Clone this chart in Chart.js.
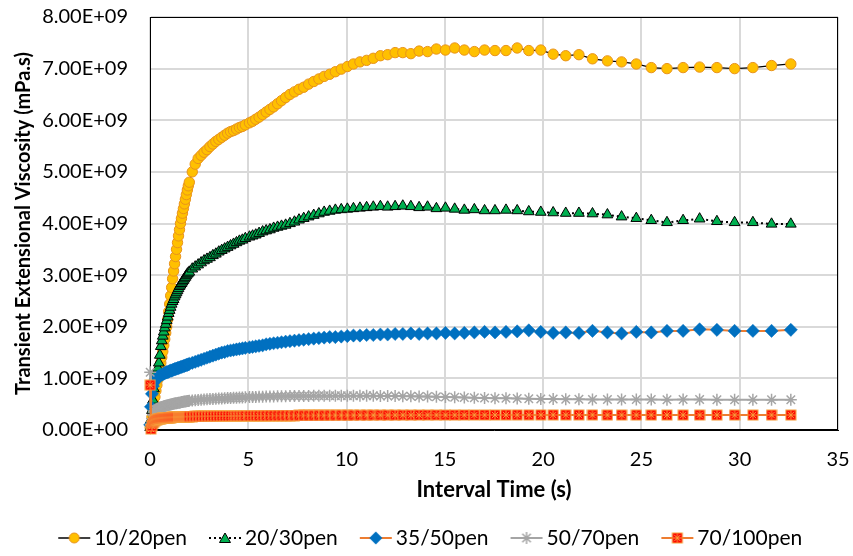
<!DOCTYPE html>
<html>
<head>
<meta charset="utf-8">
<script src="https://cdn.jsdelivr.net/npm/chart.js@4/dist/chart.umd.min.js"></script>
<style>
  html, body { margin: 0; padding: 0; background: #fff; }
  #wrap { width: 853px; height: 556px; }
</style>
</head>
<body>
<div id="wrap"><canvas id="chart" width="853" height="556"></canvas></div>
<script>
// Viscosity values are given in units of 1e9 mPa.s
const SCALE = 1e9;

const seriesNames = ['10/20pen', '20/30pen', '35/50pen', '50/70pen', '70/100pen'];

// Interval time (s)
const times = [
  0.01, 0.05, 0.1, 0.15, 0.2, 0.25, 0.3, 0.35, 0.4, 0.45, 0.5, 0.55, 0.6, 0.65, 0.7, 0.75, 0.8, 0.85, 0.9, 0.95,
  1.0, 1.05, 1.1, 1.15, 1.2, 1.25, 1.3, 1.35, 1.4, 1.45, 1.5, 1.55, 1.6, 1.65, 1.7, 1.75, 1.8, 1.85, 1.9, 1.95, 2.0,
  2.15, 2.3, 2.45, 2.6, 2.75, 2.9, 3.05, 3.2, 3.35, 3.5, 3.65, 3.8, 3.95, 4.1, 4.25, 4.4, 4.55, 4.7, 4.85,
  5.06, 5.22, 5.38, 5.55, 5.73, 5.91, 6.10, 6.29, 6.49, 6.69, 6.90, 7.12, 7.35, 7.58, 7.82, 8.07, 8.33, 8.59, 8.86, 9.14, 9.43, 9.73, 10.04, 10.35,
  10.68, 11.02, 11.36, 11.72, 12.09, 12.47, 12.86, 13.27, 13.69, 14.12, 14.57, 15.03, 15.50, 15.99, 16.50, 17.02, 17.55, 18.11, 18.68, 19.27, 19.88, 20.51, 21.15, 21.82, 22.51,
  23.27, 23.99, 24.74, 25.5, 26.3, 27.12, 27.96, 28.84, 29.74, 30.67, 31.62, 32.6
];

const pen10_20 = [
  0.05, 0.12, 0.25, 0.40, 0.52, 0.64, 0.76, 0.87, 0.98, 1.08, 1.19, 1.30, 1.41, 1.52, 1.64, 1.76, 1.88, 2.00, 2.14, 2.29,
  2.44, 2.60, 2.76, 2.93, 3.08, 3.22, 3.36, 3.50, 3.63, 3.76, 3.88, 4.00, 4.10, 4.20, 4.29, 4.38, 4.47, 4.56, 4.65, 4.73, 4.80,
  5.00, 5.15, 5.26, 5.32, 5.38, 5.43, 5.49, 5.54, 5.59, 5.63, 5.67, 5.71, 5.75, 5.78, 5.80, 5.83, 5.86, 5.88, 5.91,
  5.95, 5.98, 6.02, 6.06, 6.11, 6.16, 6.21, 6.26, 6.32, 6.38, 6.44, 6.50, 6.55, 6.60, 6.64, 6.70, 6.75, 6.80, 6.85, 6.89, 6.94, 6.99, 7.04, 7.09,
  7.13, 7.16, 7.20, 7.25, 7.27, 7.31, 7.31, 7.29, 7.34, 7.33, 7.38, 7.36, 7.40, 7.36, 7.33, 7.36, 7.35, 7.35, 7.40, 7.35, 7.36, 7.28, 7.25, 7.27, 7.19,
  7.15, 7.13, 7.09, 7.02, 7.00, 7.02, 7.03, 7.02, 7.00, 7.02, 7.06, 7.09
];

const pen20_30 = [
  0.05, 0.20, 0.38, 0.58, 0.80, 1.00, 1.07, 1.13, 1.20, 1.30, 1.45, 1.62, 1.73, 1.82, 1.90, 1.98, 2.05, 2.12, 2.19, 2.26,
  2.32, 2.38, 2.44, 2.49, 2.53, 2.58, 2.62, 2.66, 2.70, 2.74, 2.78, 2.81, 2.84, 2.87, 2.90, 2.93, 2.96, 2.99, 3.02, 3.04, 3.06,
  3.12, 3.16, 3.20, 3.24, 3.28, 3.31, 3.34, 3.38, 3.41, 3.45, 3.48, 3.51, 3.54, 3.57, 3.60, 3.63, 3.66, 3.68, 3.71,
  3.74, 3.76, 3.78, 3.81, 3.84, 3.86, 3.88, 3.91, 3.93, 3.95, 3.97, 4.00, 4.03, 4.07, 4.10, 4.13, 4.16, 4.19, 4.22, 4.24, 4.26, 4.27, 4.28, 4.29,
  4.30, 4.31, 4.32, 4.33, 4.32, 4.33, 4.34, 4.33, 4.31, 4.32, 4.29, 4.30, 4.28, 4.26, 4.27, 4.25, 4.25, 4.26, 4.25, 4.23, 4.22, 4.21, 4.20, 4.20, 4.19,
  4.17, 4.13, 4.10, 4.06, 4.02, 4.06, 4.09, 4.04, 4.02, 4.02, 3.99, 3.99
];

const pen35_50 = [
  0.10, 0.45, 0.70, 0.85, 0.92, 0.96, 0.99, 1.01, 1.03, 1.04, 1.05, 1.06, 1.07, 1.08, 1.09, 1.10, 1.11, 1.12, 1.12, 1.13,
  1.14, 1.15, 1.15, 1.16, 1.17, 1.18, 1.18, 1.19, 1.20, 1.20, 1.21, 1.22, 1.22, 1.23, 1.24, 1.24, 1.25, 1.26, 1.26, 1.27, 1.28,
  1.30, 1.32, 1.34, 1.36, 1.38, 1.40, 1.42, 1.44, 1.46, 1.48, 1.50, 1.51, 1.53, 1.54, 1.55, 1.56, 1.57, 1.58, 1.59,
  1.60, 1.61, 1.62, 1.63, 1.64, 1.66, 1.67, 1.68, 1.69, 1.70, 1.71, 1.72, 1.73, 1.74, 1.75, 1.76, 1.77, 1.78, 1.79, 1.80, 1.80, 1.81, 1.82, 1.83,
  1.83, 1.84, 1.84, 1.85, 1.85, 1.86, 1.86, 1.87, 1.86, 1.87, 1.87, 1.88, 1.87, 1.88, 1.89, 1.90, 1.89, 1.90, 1.91, 1.93, 1.90, 1.88, 1.89, 1.88, 1.92,
  1.89, 1.87, 1.90, 1.89, 1.92, 1.92, 1.95, 1.94, 1.92, 1.92, 1.92, 1.94
];

const pen50_70 = [
  1.12, 0.10, 0.22, 0.30, 0.35, 0.37, 0.39, 0.40, 0.41, 0.42, 0.43, 0.44, 0.445, 0.45, 0.46, 0.465, 0.47, 0.475, 0.48, 0.485,
  0.49, 0.495, 0.50, 0.505, 0.51, 0.515, 0.52, 0.52, 0.525, 0.53, 0.53, 0.535, 0.54, 0.54, 0.545, 0.55, 0.55, 0.555, 0.56, 0.56, 0.565,
  0.57, 0.575, 0.58, 0.585, 0.59, 0.595, 0.60, 0.60, 0.605, 0.61, 0.61, 0.615, 0.62, 0.62, 0.625, 0.625, 0.63, 0.63, 0.635,
  0.64, 0.64, 0.64, 0.645, 0.645, 0.65, 0.65, 0.65, 0.655, 0.655, 0.655, 0.66, 0.66, 0.66, 0.66, 0.66, 0.665, 0.665, 0.665, 0.665, 0.665, 0.665, 0.665, 0.665,
  0.665, 0.665, 0.665, 0.66, 0.66, 0.66, 0.655, 0.655, 0.65, 0.65, 0.645, 0.64, 0.635, 0.63, 0.625, 0.62, 0.615, 0.615, 0.61, 0.605, 0.60, 0.60, 0.595, 0.595, 0.59,
  0.59, 0.59, 0.59, 0.59, 0.585, 0.59, 0.59, 0.585, 0.585, 0.585, 0.585, 0.585
];

const pen70_100 = [
  0.87, 0.02, 0.08, 0.13, 0.16, 0.18, 0.195, 0.20, 0.21, 0.215, 0.22, 0.222, 0.225, 0.228, 0.23, 0.232, 0.234, 0.236, 0.238, 0.24,
  0.241, 0.242, 0.243, 0.244, 0.245, 0.246, 0.247, 0.248, 0.249, 0.25, 0.25, 0.251, 0.252, 0.253, 0.254, 0.255, 0.256, 0.257, 0.258, 0.259, 0.26,
  0.261, 0.262, 0.263, 0.264, 0.265, 0.266, 0.267, 0.268, 0.268, 0.269, 0.27, 0.27, 0.271, 0.271, 0.272, 0.272, 0.273, 0.273, 0.274,
  0.275, 0.275, 0.276, 0.276, 0.277, 0.277, 0.278, 0.278, 0.279, 0.279, 0.28, 0.28, 0.28, 0.281, 0.281, 0.282, 0.282, 0.283, 0.283, 0.284, 0.284, 0.285, 0.285, 0.285,
  0.286, 0.286, 0.287, 0.287, 0.288, 0.288, 0.289, 0.289, 0.29, 0.29, 0.29, 0.29, 0.29, 0.291, 0.291, 0.291, 0.291, 0.292, 0.292, 0.292, 0.292, 0.292, 0.292, 0.292, 0.292,
  0.29, 0.29, 0.29, 0.29, 0.29, 0.29, 0.29, 0.29, 0.29, 0.29, 0.29, 0.29
];

// Axis ranges
const xMin = 0, xMax = 35, xStep = 5;
const yMin = 0, yMax = 8, yStep = 1;

const FONT = 'Lato, "Open Sans", sans-serif';
const ORANGE = '#ED7D31';

function makeCanvas(w, h, draw) {
  const c = document.createElement('canvas');
  c.width = w; c.height = h;
  draw(c.getContext('2d'), w, h);
  return c;
}

function asterisk(ctx, cx, cy, r) {
  const d = r * Math.SQRT1_2;
  ctx.beginPath();
  ctx.moveTo(cx - r, cy); ctx.lineTo(cx + r, cy);
  ctx.moveTo(cx, cy - r); ctx.lineTo(cx, cy + r);
  ctx.moveTo(cx - d, cy - d); ctx.lineTo(cx + d, cy + d);
  ctx.moveTo(cx - d, cy + d); ctx.lineTo(cx + d, cy - d);
  ctx.stroke();
}

// red filled square carrying an orange asterisk
function drawRedMarker(ctx, cx, cy) {
  ctx.fillStyle = '#FF0000';
  ctx.fillRect(cx - 5, cy - 5, 10, 10);
  ctx.strokeStyle = '#F6A23C';
  ctx.lineWidth = 1;
  ctx.strokeRect(cx - 5, cy - 5, 10, 10);
  asterisk(ctx, cx, cy, 4.5);
}
const redMarker = makeCanvas(12, 12, (ctx) => drawRedMarker(ctx, 6, 6));

// legend icons: line sample with the series marker in the middle
const ICON_W = 34, ICON_H = 16;
function legendLine(ctx, color, width, dash) {
  ctx.save();
  ctx.strokeStyle = color; ctx.lineWidth = width;
  if (dash) ctx.setLineDash(dash);
  ctx.beginPath(); ctx.moveTo(1, ICON_H / 2); ctx.lineTo(ICON_W - 1, ICON_H / 2); ctx.stroke();
  ctx.restore();
}
const legendIcons = [
  makeCanvas(ICON_W, ICON_H, (ctx) => {
    legendLine(ctx, '#000', 1.5);
    ctx.beginPath(); ctx.arc(ICON_W / 2, ICON_H / 2, 5, 0, Math.PI * 2);
    ctx.fillStyle = '#FFC000'; ctx.fill(); ctx.strokeStyle = '#E8921C'; ctx.lineWidth = 1; ctx.stroke();
  }),
  makeCanvas(ICON_W, ICON_H, (ctx) => {
    legendLine(ctx, '#000', 2, [2, 3]);
    const cx = ICON_W / 2, cy = ICON_H / 2 + 1;
    ctx.beginPath(); ctx.moveTo(cx, cy - 6); ctx.lineTo(cx + 5.5, cy + 3.5); ctx.lineTo(cx - 5.5, cy + 3.5); ctx.closePath();
    ctx.fillStyle = '#00B050'; ctx.fill(); ctx.strokeStyle = '#000'; ctx.lineWidth = 1; ctx.stroke();
  }),
  makeCanvas(ICON_W, ICON_H, (ctx) => {
    legendLine(ctx, ORANGE, 2);
    const cx = ICON_W / 2, cy = ICON_H / 2;
    ctx.beginPath(); ctx.moveTo(cx, cy - 6.5); ctx.lineTo(cx + 6.5, cy); ctx.lineTo(cx, cy + 6.5); ctx.lineTo(cx - 6.5, cy); ctx.closePath();
    ctx.fillStyle = '#0070C0'; ctx.fill();
  }),
  makeCanvas(ICON_W, ICON_H, (ctx) => {
    legendLine(ctx, '#A5A5A5', 2);
    ctx.strokeStyle = '#A5A5A5'; ctx.lineWidth = 1.5;
    asterisk(ctx, ICON_W / 2, ICON_H / 2, 6);
  }),
  makeCanvas(ICON_W, ICON_H, (ctx) => {
    legendLine(ctx, ORANGE, 2);
    drawRedMarker(ctx, ICON_W / 2, ICON_H / 2);
  })
];

function points(values) {
  return times.map((t, i) => ({ x: t, y: values[i] * SCALE }));
}

function sci(v) {
  if (v === 0) return '0.00E+00';
  const e = Math.floor(Math.log10(Math.abs(v)) + 1e-9);
  const m = v / Math.pow(10, e);
  return m.toFixed(2) + 'E' + (e < 0 ? '-' : '+') + String(Math.abs(e)).padStart(2, '0');
}

// black frame round the plot area
const plotFrame = {
  id: 'plotFrame',
  beforeDatasetsDraw(chart) {
    const { ctx, chartArea: a } = chart;
    ctx.save();
    ctx.strokeStyle = '#000';
    ctx.lineWidth = 1;
    ctx.strokeRect(Math.round(a.left) + 0.5, Math.round(a.top) + 0.5,
                   Math.round(a.right - a.left) - 1, Math.round(a.bottom - a.top) - 1);
    ctx.restore();
  }
};

// nudge the legend row a little to the right
const legendOffset = {
  id: 'legendOffset',
  afterLayout(chart) {
    const lg = chart.legend;
    if (lg) { lg.left += 8.5; lg.right += 8.5; }
  }
};

Chart.defaults.font.family = FONT;
Chart.defaults.font.size = 20;
Chart.defaults.color = '#000';

const datasets = [
  {
    label: seriesNames[0], data: points(pen10_20), order: 5,
    borderColor: '#000', borderWidth: 1.25,
    pointStyle: 'circle', pointRadius: 5.2, pointBackgroundColor: '#FFC000',
    pointBorderColor: '#E8921C', pointBorderWidth: 1
  },
  {
    label: seriesNames[1], data: points(pen20_30), order: 4,
    borderColor: '#000', borderWidth: 2, borderDash: [2, 3],
    pointStyle: 'triangle', pointRadius: 6.2, pointBackgroundColor: '#00B050',
    pointBorderColor: '#000', pointBorderWidth: 1
  },
  {
    label: seriesNames[2], data: points(pen35_50), order: 3,
    borderColor: ORANGE, borderWidth: 2,
    pointStyle: 'rectRot', pointRadius: 6.6, pointBackgroundColor: '#0070C0',
    pointBorderColor: '#0070C0', pointBorderWidth: 0.5
  },
  {
    label: seriesNames[3], data: points(pen50_70), order: 2,
    borderColor: '#A5A5A5', borderWidth: 2,
    pointStyle: 'star', pointRadius: 6, pointBackgroundColor: '#A5A5A5',
    pointBorderColor: '#A5A5A5', pointBorderWidth: 1.5
  },
  {
    label: seriesNames[4], data: points(pen70_100), order: 1,
    borderColor: ORANGE, borderWidth: 2,
    pointStyle: redMarker, pointRadius: 5
  }
].map(d => Object.assign({ tension: 0, clip: false, fill: false, pointHoverRadius: d.pointRadius }, d));

new Chart(document.getElementById('chart'), {
  type: 'line',
  data: { datasets },
  options: {
    responsive: false,
    animation: false,
    devicePixelRatio: 1,
    parsing: false,
    normalized: true,
    layout: { padding: { left: 12, right: 15, top: 17, bottom: -2.5 } },
    plugins: {
      tooltip: { enabled: false },
      legend: {
        position: 'bottom',
        labels: {
          usePointStyle: true,
          pointStyleWidth: 19,
          padding: 28.5,
          color: '#000',
          font: { size: 21, family: FONT },
          sort: (a, b) => a.datasetIndex - b.datasetIndex,
          generateLabels(chart) {
            const items = Chart.defaults.plugins.legend.labels.generateLabels(chart);
            return items.map(it => Object.assign(it, { pointStyle: legendIcons[it.datasetIndex], rotation: 0 }));
          }
        }
      }
    },
    scales: {
      x: {
        type: 'linear',
        min: xMin, max: xMax,
        ticks: { stepSize: xStep, padding: 0, color: '#000', font: { size: 20 } },
        grid: { color: '#D9D9D9', lineWidth: 2, drawTicks: true, tickLength: 18, tickColor: 'rgba(0,0,0,0)' },
        border: { display: true, color: '#000', width: 1 },
        title: { display: true, text: 'Interval Time (s)', color: '#000',
                 font: { size: 22, weight: 'bold', lineHeight: 1 }, padding: { top: 0, bottom: -2 } },
        afterFit(scale) { scale.height = 69; }
      },
      y: {
        type: 'linear',
        min: yMin * SCALE, max: yMax * SCALE,
        ticks: { stepSize: yStep * SCALE, padding: 0, color: '#000', font: { size: 20 },
                 callback: (v) => sci(v) },
        grid: { color: '#D9D9D9', lineWidth: 2, drawTicks: true, tickLength: 22, tickColor: 'rgba(0,0,0,0)' },
        border: { display: true, color: '#000', width: 1 },
        title: { display: true, text: 'Transient Extensional Viscosity (mPa.s)', color: '#000',
                 font: { size: 20, weight: 'bold', lineHeight: 1.2 }, padding: { top: 0, bottom: 0 } },
        afterFit(scale) { scale.width = 138; }
      }
    }
  },
  plugins: [plotFrame, legendOffset]
});
</script>
</body>
</html>
